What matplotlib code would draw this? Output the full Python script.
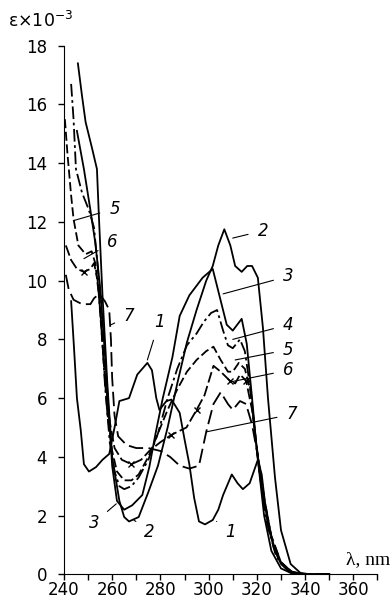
import matplotlib.pyplot as plt
from matplotlib.ticker import MultipleLocator

plt.rcParams['font.family'] = ['DejaVu Sans']
plt.rcParams['mathtext.default'] = 'regular'

# wavelength (nm) / extinction (x 10^-3)
wl_1 = [243, 244.2, 245.4, 247, 248.3, 250.4, 253.3, 256, 258.8, 261, 263, 267, 270.4,
        274.6, 276.5, 278.3, 279.6, 282.5, 284.6, 286.5, 288, 290, 292, 294, 296, 298.5,
        301.7, 304, 306, 309.6, 312, 314.2, 317, 320.4, 322, 324, 327, 330, 334, 340, 350]
eps_1 = [9.3, 7.7, 6.0, 4.9, 3.75, 3.5, 3.65, 3.9, 4.1, 5.0, 5.9, 6.0, 6.8,
         7.2, 6.95, 6.0, 5.6, 5.9, 5.95, 5.7, 5.5, 4.6, 3.75, 2.6, 1.8, 1.7,
         1.85, 2.2, 2.7, 3.4, 3.1, 2.9, 3.1, 3.9, 3.4, 2.0, 0.9, 0.35, 0.05, 0, 0]

wl_2 = [245.8, 247.5, 249, 251.7, 253.7, 254.5, 256, 258, 260, 263, 265, 267, 271, 275,
        279, 283, 287, 291, 295, 299, 301.7, 304, 306.5, 309, 311, 313.7, 316, 318,
        320.4, 322.5, 324.6, 327.5, 330, 334, 338, 342, 350]
eps_2 = [17.4, 16.3, 15.4, 14.5, 13.8, 12.2, 9.5, 6.5, 4.0, 2.5, 1.95, 1.8, 1.95, 2.8,
         3.7, 5.0, 6.5, 7.9, 9.0, 10.0, 10.5, 11.2, 11.75, 11.2, 10.5, 10.3, 10.5, 10.5,
         10.1, 8.4, 6.0, 3.3, 1.5, 0.35, 0.05, 0, 0]

wl_3 = [245.4, 248.3, 251, 253, 255, 257, 259, 260, 262, 265, 268.3, 272.5, 275.4, 278,
        281, 285, 288, 292, 297.5, 301.7, 304.6, 307.5, 310, 313.7, 315.8, 318, 320,
        323, 326, 330, 334, 340, 350]
eps_3 = [15.1, 13.8, 12.4, 11.3, 9.8, 7.5, 5.0, 3.7, 2.5, 2.2, 2.35, 2.7, 3.65, 4.8,
         6.0, 7.4, 8.8, 9.5, 10.1, 10.4, 9.45, 8.5, 8.3, 8.7, 7.85, 6.0, 4.2,
         2.0, 0.8, 0.2, 0.05, 0, 0]

wl_4 = [243, 244, 245, 247.5, 250.4, 252.5, 254, 255.5, 257, 259, 261, 263, 265, 268,
        271, 275, 279, 283, 287, 291, 295, 298, 301, 303.5, 306, 308, 310, 313, 315,
        317, 319, 321, 324, 328, 333, 340, 350]
eps_4 = [16.7, 15.5, 13.8, 13.0, 12.4, 11.8, 10.5, 8.5, 6.5, 4.5, 3.5, 3.0, 2.9, 3.0,
         3.3, 3.9, 4.8, 6.0, 7.0, 7.8, 8.2, 8.6, 8.9, 9.0, 8.3, 7.8, 7.7, 8.0, 7.6,
         6.5, 5.0, 3.5, 1.8, 0.6, 0.1, 0, 0]

wl_5 = [240.4, 241.5, 243, 244, 246, 249, 251.5, 253, 254.5, 256, 258, 260, 262, 265,
        268, 271, 275, 279, 283, 287, 291, 295, 299, 302, 305, 308, 310, 312.5, 315,
        317.5, 319.5, 322, 325, 329, 334, 340, 350]
eps_5 = [15.5, 14.3, 12.9, 12.1, 11.2, 10.9, 11.0, 10.6, 9.5, 7.8, 5.5, 4.2, 3.5, 3.2,
         3.2, 3.4, 4.0, 4.8, 5.6, 6.3, 6.9, 7.3, 7.6, 7.75, 7.3, 6.9, 6.9, 7.2, 7.0,
         6.2, 4.6, 3.0, 1.5, 0.5, 0.1, 0, 0]

wl_6 = [240.8, 243, 245.4, 248.3, 251, 252.5, 254, 255.5, 257, 259, 261, 264, 268, 272,
        275.4, 280, 284.6, 290.8, 295, 298.3, 302, 305, 308.7, 311, 313, 315.5, 318,
        320, 323, 326, 330, 335, 340, 350]
eps_6 = [11.2, 10.7, 10.4, 10.3, 10.4, 10.6, 10.0, 8.5, 6.8, 5.2, 4.3, 3.9, 3.75, 3.9,
         4.2, 4.5, 4.75, 5.0, 5.6, 6.1, 7.1, 6.9, 6.6, 6.5, 6.8, 6.6, 5.6,
         4.3, 2.6, 1.3, 0.4, 0.05, 0, 0]
marks_6 = [3, 12, 16, 18, 22, 25]

wl_7 = [240.8, 242, 244, 247.5, 251, 252.5, 254.6, 257, 258.8, 259.5, 260, 261, 262.5,
        266, 270, 275, 280, 284, 288, 292, 296, 299, 302, 305, 308, 310, 313, 315.5,
        318, 320, 323, 326, 330, 335, 340, 350]
eps_7 = [10.2, 9.7, 9.35, 9.2, 9.2, 9.4, 9.55, 9.3, 9.0, 8.0, 6.7, 5.4, 4.7,
         4.4, 4.3, 4.3, 4.2, 4.0, 3.7, 3.6, 3.7, 4.85, 5.8, 6.2, 5.8, 5.6, 5.9, 5.8,
         5.1, 4.2, 2.6, 1.3, 0.4, 0.05, 0, 0]

x_ticks = [240, 260, 280, 300, 320, 340, 360]
y_ticks = [0, 2, 4, 6, 8, 10, 12, 14, 16, 18]

fig = plt.figure(figsize=(3.92, 6.02), dpi=100)
ax = fig.add_axes([0.163, 0.046, 0.800, 0.878])

lw = 1.3
ax.plot(wl_1, eps_1, color='black', lw=lw)
ax.plot(wl_2, eps_2, color='black', lw=lw)
ax.plot(wl_3, eps_3, color='black', lw=lw)
ax.plot(wl_4, eps_4, color='black', lw=lw, linestyle=(0, (7, 2, 1.5, 2)))
ax.plot(wl_5, eps_5, color='black', lw=lw, linestyle=(0, (5, 2)))
ax.plot(wl_6, eps_6, color='black', lw=lw, linestyle=(0, (6, 2)),
        marker='x', markersize=4, markevery=marks_6)
ax.plot(wl_7, eps_7, color='black', lw=lw, linestyle=(0, (8, 3)))

ax.set_xlim(240, 370)
ax.set_ylim(0, 18)
ax.spines['top'].set_visible(False)
ax.spines['right'].set_visible(False)
ax.set_xticks(x_ticks)
ax.xaxis.set_minor_locator(MultipleLocator(10))
ax.set_yticks(y_ticks)
ax.tick_params(axis='both', which='both', direction='out', labelsize=12, width=1.0)
ax.tick_params(axis='x', which='both', length=4, pad=1)
ax.tick_params(axis='y', length=4, pad=8)

fig.text(0.02, 0.955, r'ε×10$^{-3}$', fontsize=12.5)
fig.text(0.995, 0.057, 'λ, nm', ha='right', va='bottom',
         fontsize=14, family='Liberation Serif')

# curve numbers with leader lines
labels = [
    ('2', (322.5, 11.7), (310, 11.45)),
    ('3', (333, 10.15), (306, 9.55)),
    ('4', (333, 8.5), (310, 8.0)),
    ('5', (333, 7.65), (311, 7.3)),
    ('6', (333, 6.95), (309, 6.55)),
    ('7', (334.5, 5.45), (299, 4.85)),
    ('1', (279.5, 8.6), (274.6, 7.3)),
    ('1', (309, 1.45), (303.3, 1.8)),
    ('3', (252.5, 1.75), (261.7, 2.4)),
    ('2', (275.5, 1.45), (269, 1.85)),
    ('5', (261, 12.45), (244.2, 12.05)),
    ('6', (260, 11.3), (248.3, 10.75)),
    ('7', (267, 8.8), (259.6, 8.5)),
]
for txt, pos, tip in labels:
    ax.annotate(txt, xy=tip, xytext=pos, fontsize=12, style='italic',
                ha='center', va='center',
                arrowprops=dict(arrowstyle='-', lw=0.8, color='black',
                                shrinkA=5, shrinkB=0))

plt.savefig('out.png', dpi=100)
plt.close()
